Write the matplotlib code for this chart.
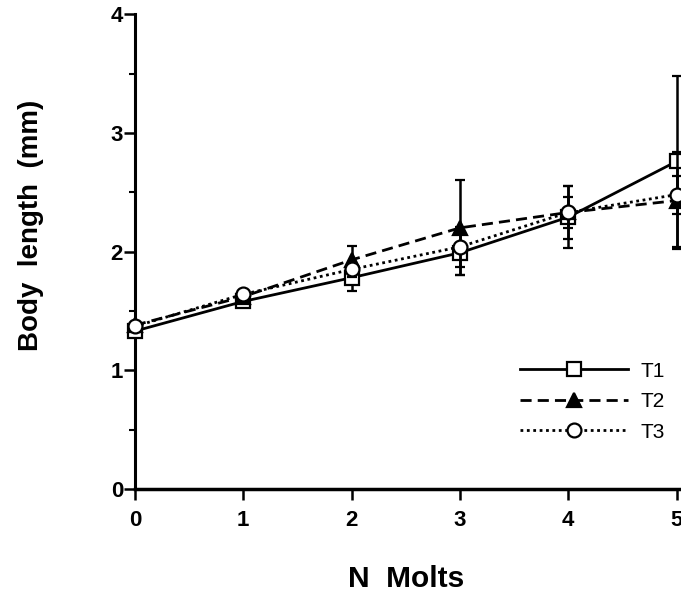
import matplotlib
matplotlib.use("Agg")
import matplotlib.pyplot as plt
from matplotlib.lines import Line2D
from matplotlib.ticker import MultipleLocator

plt.rcParams['font.family'] = ['Liberation Sans', 'DejaVu Sans']

molts = [0, 1, 2, 3, 4, 5]

t1 = [1.33, 1.58, 1.78, 1.99, 2.29, 2.76]
t1_err = [0.03, 0.03, 0.11, 0.19, 0.26, 0.72]

t2 = [1.38, 1.62, 1.93, 2.20, 2.33, 2.43]
t2_err = [0.03, 0.04, 0.12, 0.40, 0.13, 0.41]

t3 = [1.37, 1.64, 1.85, 2.04, 2.33, 2.48]
t3_err = [0.03, 0.03, 0.06, 0.17, 0.22, 0.16]

series = [
    ('T1', t1, t1_err, '-', 's', 'white'),
    ('T2', t2, t2_err, (0, (4, 2.2)), '^', 'black'),
    ('T3', t3, t3_err, (0, (1, 1.3)), 'o', 'white'),
]

fig = plt.figure(figsize=(6.81, 5.92), dpi=100)
ax = fig.add_axes([0.198, 0.174, 0.875, 0.802])

handles = []
for z, (name, vals, err, ls, mk, mfc) in enumerate(series):
    ax.errorbar(molts, vals, yerr=err, color='black', ecolor='black',
                linestyle=ls, linewidth=2.0, marker=mk, markerfacecolor=mfc,
                markersize=10, markeredgewidth=1.6, elinewidth=1.8,
                capsize=3.5, capthick=1.8, clip_on=False, zorder=3 + z)
    handles.append(Line2D([], [], color='black', linestyle=ls, linewidth=2.0,
                          marker=mk, markerfacecolor=mfc, markersize=10,
                          markeredgewidth=1.6, label=name))

ax.set_xlim(0, 5.5)
ax.set_ylim(0, 4)
ax.set_xticks(molts)
ax.set_yticks([0, 1, 2, 3, 4])
ax.yaxis.set_minor_locator(MultipleLocator(0.5))

ax.spines['top'].set_visible(False)
ax.spines['right'].set_visible(False)
ax.spines['left'].set_linewidth(2.2)
ax.spines['bottom'].set_linewidth(2.5)

ax.tick_params(axis='both', which='major', direction='out', length=8, width=1.8,
               labelsize=16)
ax.tick_params(axis='y', which='major', pad=0.5)
ax.tick_params(axis='x', which='major', pad=7)
ax.tick_params(axis='y', which='minor', direction='out', length=4, width=1.5)
for lab in ax.get_xticklabels() + ax.get_yticklabels():
    lab.set_fontweight('bold')

ax.set_ylabel('Body  length  (mm)', fontsize=20, fontweight='bold')
ax.yaxis.set_label_coords(-0.153, 0.555)
ax.set_xlabel('N  Molts', fontsize=21.5, fontweight='bold')
ax.xaxis.set_label_coords(2.5 / 5.5, -0.16)

ax.legend(handles=handles, loc='upper left', bbox_to_anchor=(0.646, 0.268),
          frameon=False, fontsize=15, handlelength=5.2, handletextpad=0.6,
          labelspacing=0.55, borderpad=0, borderaxespad=0)

fig.savefig('out.png', dpi=100)
